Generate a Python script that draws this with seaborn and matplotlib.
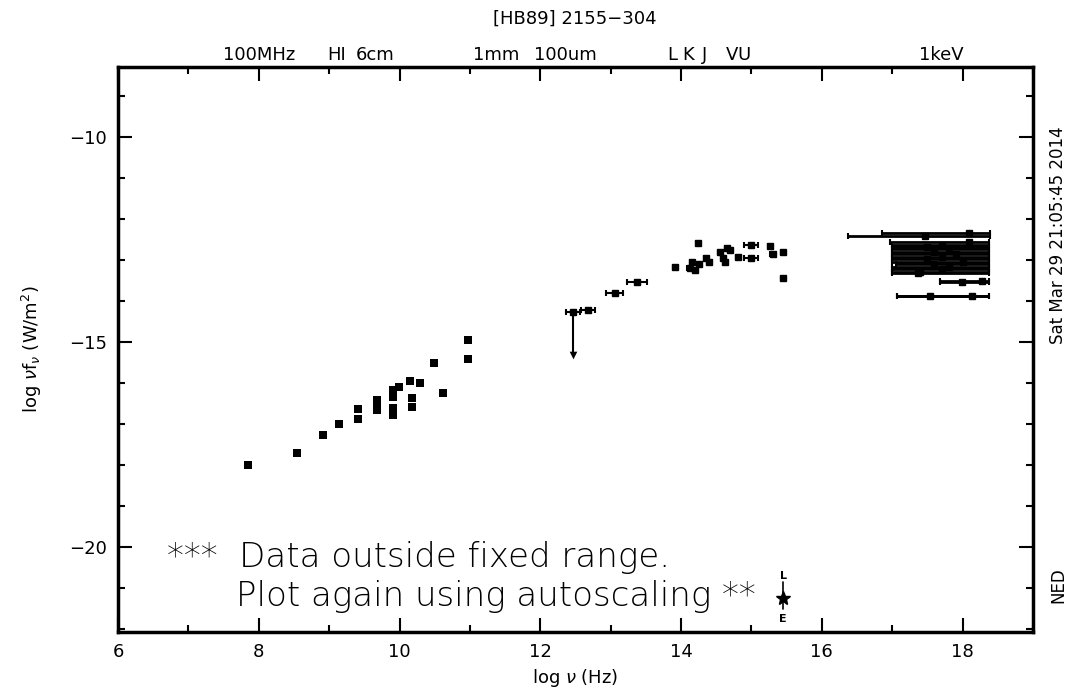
import numpy as np
import pandas as pd
import seaborn as sns
from matplotlib import pyplot as plt
from matplotlib.ticker import MultipleLocator

# radio points (no bandwidth bars)
radio_nu = [7.85, 8.54, 8.91, 9.14, 9.41, 9.41, 9.68, 9.68, 9.68, 9.91, 9.91, 9.91, 9.91,
            9.99, 10.15, 10.18, 10.18, 10.29, 10.49, 10.62, 10.97, 10.97]
radio_flux = [-18.00, -17.71, -17.27, -17.00, -16.63, -16.88, -16.41, -16.54, -16.66, -16.17,
              -16.34, -16.61, -16.78, -16.10, -15.95, -16.37, -16.59, -16.00, -15.51, -16.24,
              -14.95, -15.41]

# IR / optical / UV points with bandwidth bars
opt_nu = [12.68, 13.06, 13.37, 13.91, 14.12, 14.15, 14.25, 14.35, 14.40, 14.20, 14.24, 14.55,
          14.60, 14.65, 14.70, 14.62, 14.81, 14.99, 14.99, 15.26, 15.30, 15.45, 15.45]
opt_flux = [-14.22, -13.80, -13.54, -13.17, -13.20, -13.05, -13.10, -12.95, -13.05, -13.25,
            -12.59, -12.80, -12.95, -12.70, -12.75, -13.05, -12.93, -12.63, -12.95, -12.65,
            -12.85, -12.80, -13.44]
opt_bw = [0.10, 0.12, 0.14, 0.03, 0.03, 0.03, 0.03, 0.03, 0.03, 0.03, 0.03, 0.03,
          0.03, 0.03, 0.03, 0.03, 0.03, 0.10, 0.10, 0.03, 0.03, 0.03, 0.03]

# upper limit
lim_nu = [12.46]
lim_flux = [-14.27]
lim_bw = [0.10]
lim_low = [-15.32]

# X-ray bands
xr_nu = [17.46, 18.09, 18.09, 17.70, 17.50, 17.80, 17.60, 17.90, 17.70, 17.50, 18.00, 17.60,
         17.80, 17.70, 17.40, 17.37, 17.99, 18.27, 17.53, 18.14]
xr_flux = [-12.40, -12.34, -12.56, -12.62, -12.68, -12.74, -12.80, -12.86, -12.92, -12.98,
           -13.04, -13.10, -13.16, -13.22, -13.28, -13.32, -13.54, -13.52, -13.88, -13.88]
xr_lo = [16.37, 16.85, 16.97, 17.00, 17.00, 17.00, 17.00, 17.00, 17.00, 17.00, 17.00, 17.05,
         17.00, 17.00, 17.00, 17.00, 17.68, 17.68, 17.07, 17.07]
xr_hi = [18.39, 18.39, 18.38, 18.38, 18.38, 18.38, 18.38, 18.38, 18.38, 18.38, 18.38, 18.38,
         18.38, 18.38, 18.38, 18.38, 18.38, 18.38, 18.38, 18.38]

# labels along the top axis
band_labels = ['100MHz', 'HI', '6cm', '1mm', '100um', 'L', 'K', 'J', 'V', 'U', '1keV']
band_nu = [8.0, 9.1, 9.66, 11.38, 12.35, 13.87, 14.1, 14.34, 14.72, 14.9, 17.7]

sns.set_style('ticks')
plt.rcParams['font.family'] = ['DejaVu Sans']
plt.rcParams['axes.linewidth'] = 2.5
plt.rcParams['text.color'] = 'black'
plt.rcParams['axes.edgecolor'] = 'black'
plt.rcParams['axes.labelcolor'] = 'black'

fig = plt.figure(figsize=(10.78, 6.98), dpi=100)
ax = fig.add_axes([118 / 1078, 1 - 632 / 698, 915 / 1078, 565 / 698])

sns.scatterplot(x=radio_nu, y=radio_flux, ax=ax, marker='s', s=28, color='black',
                edgecolor='black', linewidth=0, legend=False)

ax.errorbar(opt_nu, opt_flux, xerr=opt_bw, fmt='s', ms=5, color='black', lw=1.5,
            capsize=2, capthick=1.5)

ax.errorbar(lim_nu, lim_flux, xerr=lim_bw, fmt='s', ms=5, color='black', lw=1.5,
            capsize=2, capthick=1.5)
ax.vlines(lim_nu, lim_low, lim_flux, color='black', lw=1.5)
sns.scatterplot(x=lim_nu, y=lim_low, ax=ax, marker='v', s=30, color='black',
                linewidth=0, legend=False)

xr = pd.DataFrame({'nu': xr_nu, 'flux': xr_flux, 'lo': xr_lo, 'hi': xr_hi})
ax.errorbar(xr['nu'], xr['flux'], xerr=[xr['nu'] - xr['lo'], xr['hi'] - xr['nu']],
            fmt='s', ms=4, color='black', lw=2, capsize=2, capthick=1.5)

ax.set_xlim(6, 19)
ax.set_ylim(-22.07, -8.29)
ax.xaxis.set_major_locator(MultipleLocator(2))
ax.xaxis.set_minor_locator(MultipleLocator(1))
ax.yaxis.set_major_locator(MultipleLocator(5))
ax.yaxis.set_minor_locator(MultipleLocator(1))
ax.tick_params(which='both', direction='in', top=True, right=True, width=1.5,
               labelsize=13, colors='black')
ax.tick_params(which='major', length=10, pad=8)
ax.tick_params(which='minor', length=5)
ax.set_yticks([-10, -15, -20])
ax.set_yticklabels(['\u221210', '\u221215', '\u221220'])

ax.set_xlabel(r'log $\nu$ (Hz)', fontsize=13, labelpad=4)
ax.set_ylabel(r'log $\nu$f$_\nu$ (W/m$^2$)', fontsize=13, labelpad=18)

for lab, nu in zip(band_labels, band_nu):
    ax.text(nu, 1.005, lab, transform=ax.get_xaxis_transform(), ha='center', va='bottom',
            fontsize=13)

fig.text(575 / 1078, 1 - 19 / 698, '[HB89] 2155\u2212304', ha='center', va='center',
         fontsize=13)

ax.text(6.7, -20.25, '***  Data outside fixed range.', fontsize=24.5, va='center',
        ha='left', fontweight='light')
ax.text(7.68, -21.2, 'Plot again using autoscaling **', fontsize=24.5, va='center',
        ha='left', fontweight='light')
ax.text(15.45, -20.7, 'L', fontsize=8, fontweight='bold', ha='center', va='center')
ax.text(15.45, -21.75, 'E', fontsize=8, fontweight='bold', ha='center', va='center')
ax.plot([15.45, 15.45], [-20.85, -21.5], color='black', lw=1.2)
ax.plot([15.45], [-21.25], marker='*', ms=10, color='black')

fig.text(1058 / 1078, 1 - 235 / 698, 'Sat Mar 29 21:05:45 2014', rotation=90,
         ha='center', va='center', fontsize=12)
fig.text(1058 / 1078, 1 - 585 / 698, 'NED', rotation=90, ha='center', va='center',
         fontsize=12)

fig.savefig('out.png', dpi=100)
